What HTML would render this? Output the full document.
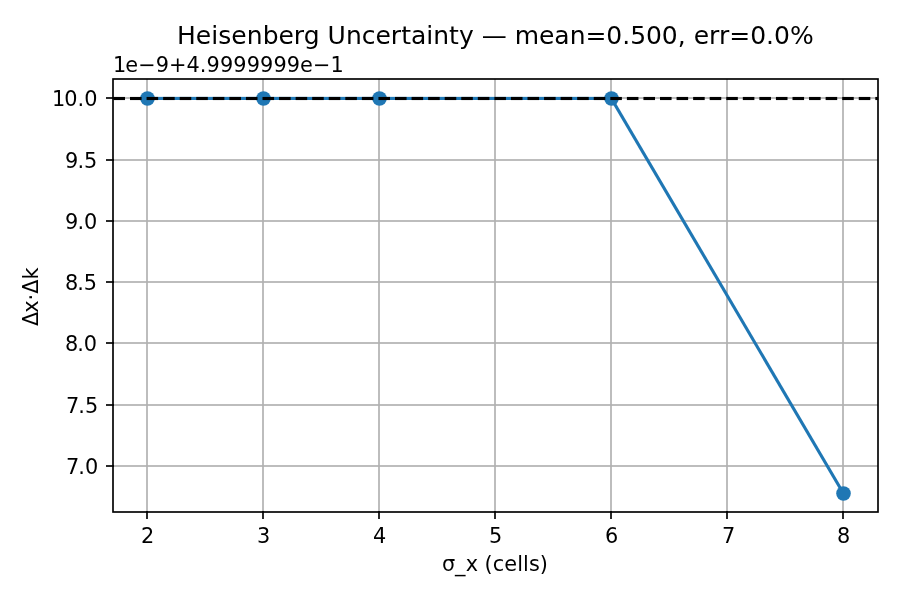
<!DOCTYPE html><html><head><meta charset="utf-8"><title>Heisenberg Uncertainty</title><style>
html,body{margin:0;padding:0;background:#fff;width:900px;height:600px;overflow:hidden}
svg{display:block;will-change:transform}
text{font-family:"DejaVu Sans","Liberation Sans",sans-serif;fill:#000;font-kerning:none;white-space:pre}
</style></head><body>
<svg width="900" height="600" viewBox="0 0 900 600">
<rect x="0" y="0" width="900" height="600" fill="#fff"/>
<g fill="#b0b0b0"><rect x="146.1667" y="79" width="1.6667" height="433"/><rect x="262.1667" y="79" width="1.6667" height="433"/><rect x="378.1667" y="79" width="1.6667" height="433"/><rect x="494.1667" y="79" width="1.6667" height="433"/><rect x="610.1667" y="79" width="1.6667" height="433"/><rect x="726.1667" y="79" width="1.6667" height="433"/><rect x="842.1667" y="79" width="1.6667" height="433"/><rect x="113" y="97.1667" width="765" height="1.6667"/><rect x="113" y="159.1667" width="765" height="1.6667"/><rect x="113" y="220.1667" width="765" height="1.6667"/><rect x="113" y="281.1667" width="765" height="1.6667"/><rect x="113" y="342.1667" width="765" height="1.6667"/><rect x="113" y="404.1667" width="765" height="1.6667"/><rect x="113" y="465.1667" width="765" height="1.6667"/></g>
<rect x="145.8375" y="96.875" width="465.5625" height="3.125" fill="#1f77b4"/>
<path d="M611.4 98.4375 L843.4 493.4" stroke="#1f77b4" stroke-width="3.125" fill="none" stroke-linecap="square"/>
<circle cx="147.5" cy="98.5" r="7.2917" fill="#1f77b4"/>
<circle cx="263.5" cy="98.5" r="7.2917" fill="#1f77b4"/>
<circle cx="379.5" cy="98.5" r="7.2917" fill="#1f77b4"/>
<circle cx="611.5" cy="98.5" r="7.2917" fill="#1f77b4"/>
<circle cx="843.5" cy="493.5" r="7.2917" fill="#1f77b4"/>
<g fill="#000"><rect x="113.44" y="96.9375" width="11.5625" height="3.125"/><rect x="130.0025" y="96.9375" width="11.5625" height="3.125"/><rect x="146.565" y="96.9375" width="11.5625" height="3.125"/><rect x="163.1275" y="96.9375" width="11.5625" height="3.125"/><rect x="179.69" y="96.9375" width="11.5625" height="3.125"/><rect x="196.2525" y="96.9375" width="11.5625" height="3.125"/><rect x="212.815" y="96.9375" width="11.5625" height="3.125"/><rect x="229.3775" y="96.9375" width="11.5625" height="3.125"/><rect x="245.94" y="96.9375" width="11.5625" height="3.125"/><rect x="262.5025" y="96.9375" width="11.5625" height="3.125"/><rect x="279.065" y="96.9375" width="11.5625" height="3.125"/><rect x="295.6275" y="96.9375" width="11.5625" height="3.125"/><rect x="312.19" y="96.9375" width="11.5625" height="3.125"/><rect x="328.7525" y="96.9375" width="11.5625" height="3.125"/><rect x="345.315" y="96.9375" width="11.5625" height="3.125"/><rect x="361.8775" y="96.9375" width="11.5625" height="3.125"/><rect x="378.44" y="96.9375" width="11.5625" height="3.125"/><rect x="395.0025" y="96.9375" width="11.5625" height="3.125"/><rect x="411.565" y="96.9375" width="11.5625" height="3.125"/><rect x="428.1275" y="96.9375" width="11.5625" height="3.125"/><rect x="444.69" y="96.9375" width="11.5625" height="3.125"/><rect x="461.2525" y="96.9375" width="11.5625" height="3.125"/><rect x="477.815" y="96.9375" width="11.5625" height="3.125"/><rect x="494.3775" y="96.9375" width="11.5625" height="3.125"/><rect x="510.94" y="96.9375" width="11.5625" height="3.125"/><rect x="527.5025" y="96.9375" width="11.5625" height="3.125"/><rect x="544.065" y="96.9375" width="11.5625" height="3.125"/><rect x="560.6275" y="96.9375" width="11.5625" height="3.125"/><rect x="577.19" y="96.9375" width="11.5625" height="3.125"/><rect x="593.7525" y="96.9375" width="11.5625" height="3.125"/><rect x="610.315" y="96.9375" width="11.5625" height="3.125"/><rect x="626.8775" y="96.9375" width="11.5625" height="3.125"/><rect x="643.44" y="96.9375" width="11.5625" height="3.125"/><rect x="660.0025" y="96.9375" width="11.5625" height="3.125"/><rect x="676.565" y="96.9375" width="11.5625" height="3.125"/><rect x="693.1275" y="96.9375" width="11.5625" height="3.125"/><rect x="709.69" y="96.9375" width="11.5625" height="3.125"/><rect x="726.2525" y="96.9375" width="11.5625" height="3.125"/><rect x="742.815" y="96.9375" width="11.5625" height="3.125"/><rect x="759.3775" y="96.9375" width="11.5625" height="3.125"/><rect x="775.94" y="96.9375" width="11.5625" height="3.125"/><rect x="792.5025" y="96.9375" width="11.5625" height="3.125"/><rect x="809.065" y="96.9375" width="11.5625" height="3.125"/><rect x="825.6275" y="96.9375" width="11.5625" height="3.125"/><rect x="842.19" y="96.9375" width="11.5625" height="3.125"/><rect x="858.7525" y="96.9375" width="11.5625" height="3.125"/><rect x="875.315" y="96.9375" width="2.885" height="3.125"/></g>
<rect x="113" y="79" width="765" height="433" fill="none" stroke="#000" stroke-width="1.6667" stroke-linejoin="miter"/>
<g fill="#000"><rect x="146.1667" y="511" width="1.6667" height="8"/><rect x="262.1667" y="511" width="1.6667" height="8"/><rect x="378.1667" y="511" width="1.6667" height="8"/><rect x="494.1667" y="511" width="1.6667" height="8"/><rect x="610.1667" y="511" width="1.6667" height="8"/><rect x="726.1667" y="511" width="1.6667" height="8"/><rect x="842.1667" y="511" width="1.6667" height="8"/><rect x="106" y="97.1667" width="8" height="1.6667"/><rect x="106" y="159.1667" width="8" height="1.6667"/><rect x="106" y="220.1667" width="8" height="1.6667"/><rect x="106" y="281.1667" width="8" height="1.6667"/><rect x="106" y="342.1667" width="8" height="1.6667"/><rect x="106" y="404.1667" width="8" height="1.6667"/><rect x="106" y="465.1667" width="8" height="1.6667"/></g>
<text x="141" y="543" font-size="20.8333">2</text>
<text x="257" y="543" font-size="20.8333">3</text>
<text x="373" y="543" font-size="20.8333">4</text>
<text x="489" y="543" font-size="20.8333">5</text>
<text x="605" y="543" font-size="20.8333">6</text>
<text x="722" y="543" font-size="20.8333">7</text>
<text x="837" y="543" font-size="20.8333">8</text>
<text x="441.875 454.875 465.625 478 484.375 492.75 504.25 517.125 523 528.875 539.75" y="571" font-size="20.8333">σ_x (cells)</text>
<text x="66 78.25 84.875" y="474" font-size="20.8333">7.0</text>
<text x="66 78.25 84.875" y="413" font-size="20.8333">7.5</text>
<text x="65 77.125 83.75" y="351" font-size="20.8333">8.0</text>
<text x="65 77.125 83.75" y="290" font-size="20.8333">8.5</text>
<text x="65 77.375 84" y="229" font-size="20.8333">9.0</text>
<text x="65 77.375 84" y="168" font-size="20.8333">9.5</text>
<text x="52 64.25 77.5 84.125" y="106" font-size="20.8333">10.0</text>
<text transform="translate(38 326) rotate(-90)" x="0 13.25 25.625 32.25 46.5" y="0" font-size="20.8333">Δx·Δk</text>
<text x="113 125.25 138.125 155.625 169 186.375 199.625 206.5 219.875 233.25 246.625 260 273.375 286.75 299.875 313 330.5" y="72" font-size="20.8333">1e−9+4.9999999e−1</text>
<text x="177 195.625 211.25 218.25 231.125 246.75 262.625 278.5 293.625 303.625 319.625 327.375 345.875 361.75 375.5 390.75 401.125 411 426.25 433.125 448.875 458.875 473.625 481.625 506.625 514.625 539 554.125 569.625 585.5 606.125 622.25 630.25 646 661.625 677.75 685.75 693.75 708.875 718.875 729.25 750.25 765.875 773.875 790" y="44" font-size="25">Heisenberg Uncertainty — mean=0.500, err=0.0%</text>
</svg></body></html>
